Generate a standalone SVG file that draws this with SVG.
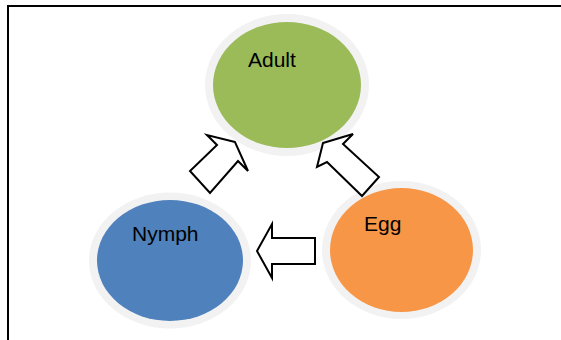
<svg xmlns="http://www.w3.org/2000/svg" width="561" height="340" viewBox="0 0 561 340">
<style>
.ring{fill:#F2F2F2}
.lbl{font-family:"Liberation Sans",Arial,sans-serif;font-size:21px;fill:#000}
.arr{fill:#fff;stroke:#000;stroke-width:2;stroke-linejoin:miter}
</style>
<rect width="561" height="340" fill="#fff"/>
<path d="M8,345 V6 H566" fill="none" stroke="#000" stroke-width="2"/>
<g id="adult">
<ellipse class="ring" cx="287" cy="85" rx="82" ry="71"/>
<ellipse cx="287" cy="85" rx="74" ry="63" fill="#9BBB59"/>
<text class="lbl" x="248" y="67">Adult</text>
</g>
<g id="nymph">
<ellipse class="ring" cx="170" cy="260.5" rx="81" ry="68"/>
<ellipse cx="170" cy="260.5" rx="73" ry="60.5" fill="#4F81BD"/>
<text class="lbl" x="132" y="241">Nymph</text>
</g>
<g id="egg">
<ellipse class="ring" cx="401.5" cy="250" rx="79.5" ry="69"/>
<ellipse cx="401.5" cy="250" rx="71.5" ry="62" fill="#F79646"/>
<text class="lbl" x="364" y="231">Egg</text>
</g>
<g id="connectors">
<polygon class="arr" points="235,142 207,135 217,145 190,171 210,193 238,161 248,171"/>
<polygon class="arr" points="323,143 353,134 343,144 379,177 362,196 327,162 317,167"/>
<polygon class="arr" points="257,251 272,224 272,238 315,238 315,264 272,264 272,278"/>
</g>
</svg>
